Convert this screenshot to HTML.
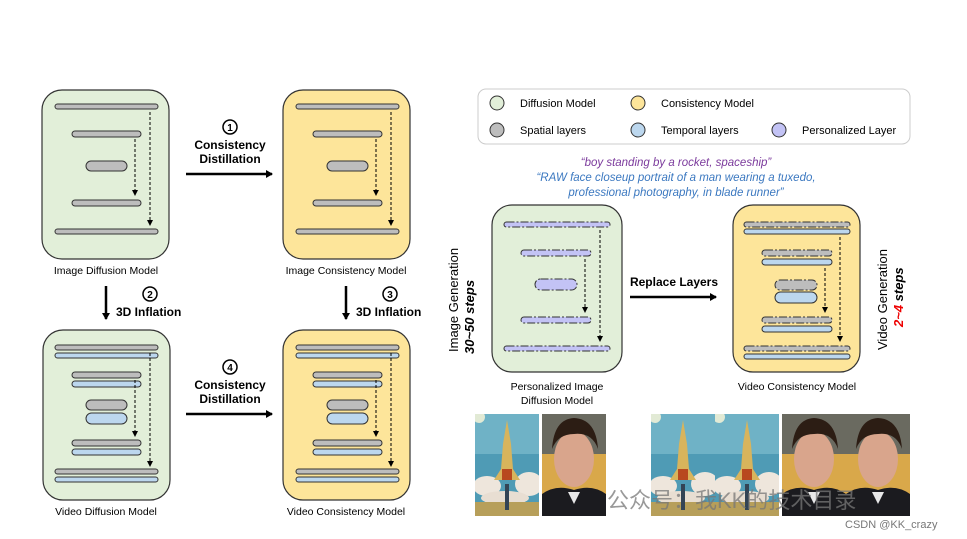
<!DOCTYPE html>
<html><head><meta charset="utf-8"><style>
html,body{margin:0;padding:0;background:#fff}
svg{display:block}
text{font-family:"Liberation Sans",Arial,sans-serif}
</style></head><body>
<svg width="967" height="539" viewBox="0 0 967 539" xmlns="http://www.w3.org/2000/svg">
<defs>
<marker id="ah" markerWidth="8" markerHeight="8" refX="6" refY="4" orient="auto" markerUnits="userSpaceOnUse"><path d="M0,0 L7,4 L0,8 z" fill="#000"/></marker>
<clipPath id="cp"><rect width="64" height="102"/></clipPath>
<g id="dash">
<line x1="150" y1="112" x2="150" y2="222" stroke="#000" stroke-width="1" stroke-dasharray="3,2"/>
<path d="M147,220 L150,226 L153,220 z"/>
<line x1="135" y1="139" x2="135" y2="192" stroke="#000" stroke-width="1" stroke-dasharray="3,2"/>
<path d="M132,190 L135,196 L138,190 z"/>
</g>
<g id="imgbars" stroke="#333" stroke-width="1" fill="#bdbdbd">
<rect x="55" y="104" width="103" height="5" rx="2.5"/>
<rect x="72" y="131" width="69" height="6" rx="3"/>
<rect x="86" y="161" width="41" height="10" rx="5"/>
<rect x="72" y="200" width="69" height="6" rx="3"/>
<rect x="55" y="229" width="103" height="5" rx="2.5"/>
</g>
<g id="vidbars" stroke="#333" stroke-width="1">
<rect x="55" y="345" width="103" height="5" rx="2.5" fill="#bdbdbd"/>
<rect x="55" y="353" width="103" height="5" rx="2.5" fill="#bcd7ee"/>
<rect x="72" y="372" width="69" height="6" rx="3" fill="#bdbdbd"/>
<rect x="72" y="381" width="69" height="6" rx="3" fill="#bcd7ee"/>
<rect x="86" y="400" width="41" height="10" rx="5" fill="#bdbdbd"/>
<rect x="86" y="413" width="41" height="11" rx="5.5" fill="#bcd7ee"/>
<rect x="72" y="440" width="69" height="6" rx="3" fill="#bdbdbd"/>
<rect x="72" y="449" width="69" height="6" rx="3" fill="#bcd7ee"/>
<rect x="55" y="469" width="103" height="5" rx="2.5" fill="#bdbdbd"/>
<rect x="55" y="477" width="103" height="5" rx="2.5" fill="#bcd7ee"/>
</g>
<g id="rocket" clip-path="url(#cp)">
<rect width="64" height="102" fill="#4f9bb5"/>
<rect y="0" width="64" height="40" fill="#6fb2c6"/>
<circle cx="4" cy="3" r="6" fill="#fff8d8" opacity=".8"/>
<ellipse cx="12" cy="72" rx="14" ry="10" fill="#eee6dc"/>
<ellipse cx="54" cy="70" rx="14" ry="12" fill="#eee6dc"/>
<ellipse cx="30" cy="84" rx="24" ry="7" fill="#e8ded2"/>
<rect y="88" width="64" height="14" fill="#b79f5a"/>
<path d="M32,6 L36,30 L38,55 L45,66 L19,66 L26,55 L28,30 z" fill="#d8b45c"/>
<rect x="27" y="55" width="10" height="11" fill="#b8491f"/>
<rect x="30" y="70" width="4" height="26" fill="#345"/>
</g>
<g id="face" clip-path="url(#cp)">
<rect width="64" height="102" fill="#d9a84a"/>
<rect x="0" y="0" width="64" height="40" fill="#6a6a60"/>
<ellipse cx="32" cy="45" rx="20" ry="28" fill="#d9a58c"/>
<path d="M10,35 Q12,5 32,4 Q54,5 56,35 Q50,18 32,20 Q16,20 10,35z" fill="#2c1d14"/>
<path d="M0,102 L0,80 Q14,70 32,76 Q50,70 64,80 L64,102z" fill="#1b1b1f"/>
<path d="M26,78 L32,90 L38,78z" fill="#e8e8e8"/>
</g>
</defs>

<rect x="42" y="90" width="127" height="169" rx="20" fill="#e2efd9" stroke="#333" stroke-width="1.2"/>
<use href="#imgbars"/><use href="#dash"/>
<text x="106" y="274" font-size="10.5" text-anchor="middle">Image Diffusion Model</text>

<rect x="283" y="90" width="127" height="169" rx="20" fill="#fde59a" stroke="#333" stroke-width="1.2"/>
<g transform="translate(241,0)"><use href="#imgbars"/><use href="#dash"/></g>
<text x="346" y="274" font-size="10.5" text-anchor="middle">Image Consistency Model</text>

<rect x="43" y="330" width="127" height="170" rx="20" fill="#e2efd9" stroke="#333" stroke-width="1.2"/>
<use href="#vidbars"/><g transform="translate(0,241)"><use href="#dash"/></g>
<text x="106" y="515" font-size="10.5" text-anchor="middle">Video Diffusion Model</text>

<rect x="283" y="330" width="127" height="170" rx="20" fill="#fde59a" stroke="#333" stroke-width="1.2"/>
<g transform="translate(241,0)"><use href="#vidbars"/></g><g transform="translate(241,241)"><use href="#dash"/></g>
<text x="346" y="515" font-size="10.5" text-anchor="middle">Video Consistency Model</text>

<line x1="186" y1="174" x2="272" y2="174" stroke="#000" stroke-width="2.5" marker-end="url(#ah)"/>
<circle cx="230" cy="127" r="7" fill="#fff" stroke="#000" stroke-width="1.5"/>
<text x="230" y="131" font-size="10" font-weight="bold" text-anchor="middle">1</text>
<text x="230" y="149" font-size="12" font-weight="bold" text-anchor="middle">Consistency</text>
<text x="230" y="163" font-size="12" font-weight="bold" text-anchor="middle">Distillation</text>

<line x1="186" y1="414" x2="272" y2="414" stroke="#000" stroke-width="2.5" marker-end="url(#ah)"/>
<circle cx="230" cy="367" r="7" fill="#fff" stroke="#000" stroke-width="1.5"/>
<text x="230" y="371" font-size="10" font-weight="bold" text-anchor="middle">4</text>
<text x="230" y="389" font-size="12" font-weight="bold" text-anchor="middle">Consistency</text>
<text x="230" y="403" font-size="12" font-weight="bold" text-anchor="middle">Distillation</text>

<line x1="106" y1="286" x2="106" y2="319" stroke="#000" stroke-width="2.5" marker-end="url(#ah)"/>
<circle cx="150" cy="294" r="7" fill="#fff" stroke="#000" stroke-width="1.5"/>
<text x="150" y="298" font-size="10" font-weight="bold" text-anchor="middle">2</text>
<text x="116" y="316" font-size="12" font-weight="bold">3D Inflation</text>

<line x1="346" y1="286" x2="346" y2="319" stroke="#000" stroke-width="2.5" marker-end="url(#ah)"/>
<circle cx="390" cy="294" r="7" fill="#fff" stroke="#000" stroke-width="1.5"/>
<text x="390" y="298" font-size="10" font-weight="bold" text-anchor="middle">3</text>
<text x="356" y="316" font-size="12" font-weight="bold">3D Inflation</text>

<rect x="478" y="89" width="432" height="55" rx="8" fill="#fff" stroke="#ccc" stroke-width="1"/>
<g stroke="#333" stroke-width="1">
<circle cx="497" cy="103" r="7" fill="#e2efd9"/>
<circle cx="638" cy="103" r="7" fill="#fde59a"/>
<circle cx="497" cy="130" r="7" fill="#bdbdbd"/>
<circle cx="638" cy="130" r="7" fill="#bcd7ee"/>
<circle cx="779" cy="130" r="7" fill="#c3c3f5"/>
</g>
<g font-size="11">
<text x="520" y="107">Diffusion Model</text>
<text x="661" y="107">Consistency Model</text>
<text x="520" y="134">Spatial layers</text>
<text x="661" y="134">Temporal layers</text>
<text x="802" y="134">Personalized Layer</text>
</g>

<g font-size="11.5" font-style="italic" text-anchor="middle" style="font-family:'DejaVu Sans Mono',monospace">
<text x="676" y="166" fill="#7b3a9c">“boy standing by a rocket, spaceship”</text>
<text x="676" y="181" fill="#3b78c0">“RAW face closeup portrait of a man wearing a tuxedo,</text>
<text x="676" y="196" fill="#3b78c0">professional photography, in blade runner”</text>
</g>

<rect x="492" y="205" width="130" height="167" rx="20" fill="#e2efd9" stroke="#333" stroke-width="1.2"/>
<g stroke="#333" stroke-width="1" fill="#c3c3f5" stroke-dasharray="8,2,2,2">
<rect x="504" y="222" width="106" height="5" rx="2.5"/>
<rect x="521" y="250" width="70" height="6" rx="3"/>
<rect x="535" y="279" width="42" height="11" rx="5.5"/>
<rect x="521" y="317" width="70" height="6" rx="3"/>
<rect x="504" y="346" width="106" height="5" rx="2.5"/>
</g>
<line x1="600" y1="230" x2="600" y2="338" stroke="#000" stroke-dasharray="3,2"/><path d="M597,336 L600,342 L603,336z"/>
<line x1="585" y1="259" x2="585" y2="309" stroke="#000" stroke-dasharray="3,2"/><path d="M582,307 L585,313 L588,307z"/>
<text x="557" y="390" font-size="10.5" text-anchor="middle">Personalized Image</text>
<text x="557" y="404" font-size="10.5" text-anchor="middle">Diffusion Model</text>

<text x="0" y="0" font-size="13" transform="translate(458,352) rotate(-90)">Image Generation</text>
<text x="0" y="0" font-size="13" font-weight="bold" font-style="italic" transform="translate(474,354) rotate(-90)">30~50 steps</text>

<line x1="630" y1="297" x2="716" y2="297" stroke="#000" stroke-width="2.5" marker-end="url(#ah)"/>
<text x="674" y="286" font-size="12" font-weight="bold" text-anchor="middle">Replace Layers</text>

<rect x="733" y="205" width="127" height="167" rx="20" fill="#fde59a" stroke="#333" stroke-width="1.2"/>
<g stroke="#333" stroke-width="1">
<rect x="744" y="222" width="106" height="5" rx="2.5" fill="#bdbdbd" stroke-dasharray="8,2,2,2"/>
<rect x="744" y="229" width="106" height="5" rx="2.5" fill="#bcd7ee"/>
<rect x="762" y="250" width="70" height="6" rx="3" fill="#bdbdbd" stroke-dasharray="8,2,2,2"/>
<rect x="762" y="259" width="70" height="6" rx="3" fill="#bcd7ee"/>
<rect x="775" y="280" width="42" height="10" rx="5" fill="#bdbdbd" stroke-dasharray="8,2,2,2"/>
<rect x="775" y="292" width="42" height="11" rx="5.5" fill="#bcd7ee"/>
<rect x="762" y="317" width="70" height="6" rx="3" fill="#bdbdbd" stroke-dasharray="8,2,2,2"/>
<rect x="762" y="326" width="70" height="6" rx="3" fill="#bcd7ee"/>
<rect x="744" y="346" width="106" height="5" rx="2.5" fill="#bdbdbd" stroke-dasharray="8,2,2,2"/>
<rect x="744" y="354" width="106" height="5" rx="2.5" fill="#bcd7ee"/>
</g>
<line x1="840" y1="237" x2="840" y2="338" stroke="#000" stroke-dasharray="3,2"/><path d="M837,336 L840,342 L843,336z"/>
<line x1="825" y1="268" x2="825" y2="309" stroke="#000" stroke-dasharray="3,2"/><path d="M822,307 L825,313 L828,307z"/>
<text x="797" y="390" font-size="10.5" text-anchor="middle">Video Consistency Model</text>

<text x="0" y="0" font-size="13" transform="translate(887,350) rotate(-90)">Video Generation</text>
<text x="0" y="0" font-size="13" font-weight="bold" font-style="italic" transform="translate(903,327) rotate(-90)"><tspan fill="#e00">2~4</tspan> steps</text>

<use href="#rocket" x="475" y="414"/>
<use href="#face" x="542" y="414"/>
<use href="#rocket" x="651" y="414"/>
<use href="#rocket" x="715" y="414"/>
<use href="#face" x="782" y="414"/>
<use href="#face" x="846" y="414"/>

<text x="607" y="508" font-size="22" fill="#777" opacity=".75" style="font-family:'Liberation Sans','Noto Sans CJK SC',sans-serif">公众号：我KK的技术目录</text>
<text x="845" y="528" font-size="11" fill="#777">CSDN @KK_crazy</text>
</svg>
</body></html>
